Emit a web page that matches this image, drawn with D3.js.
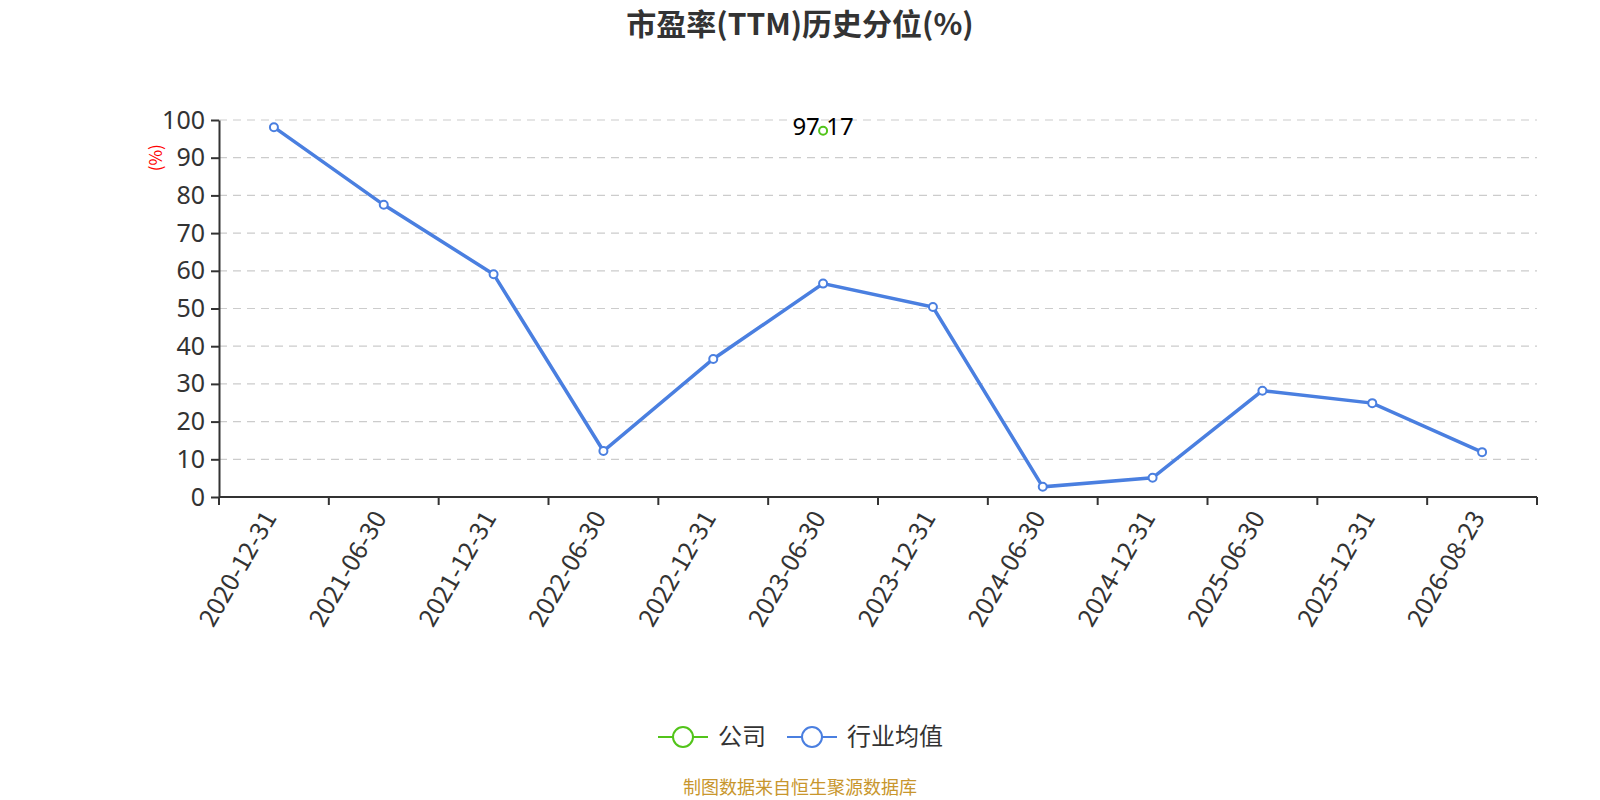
<!DOCTYPE html>
<html>
<head>
<meta charset="utf-8">
<script src="https://cdn.jsdelivr.net/npm/d3@7/dist/d3.min.js"></script>
<style>
  body { margin: 0; background: #fff; }
  svg { font-family: "Microsoft YaHei", "Noto Sans CJK SC", "Noto Sans", sans-serif; }
</style>
</head>
<body>
<svg id="chart"></svg>
<script>
// 数据
const dates = ["2020-12-31","2021-06-30","2021-12-31","2022-06-30","2022-12-31","2023-06-30",
               "2023-12-31","2024-06-30","2024-12-31","2025-06-30","2025-12-31","2026-08-23"];
const industry = [98.1, 77.5, 59.1, 12.2, 36.6, 56.6, 50.4, 2.7, 5.1, 28.2, 24.9, 11.9];
const company = [null, null, null, null, null, 97.17, null, null, null, null, null, null];
const yTicks = [0, 10, 20, 30, 40, 50, 60, 70, 80, 90, 100];
const seriesNames = ["公司", "行业均值"];
const seriesColors = ["#52c41a", "#4a7fe0"];

const svgW = 1600, svgH = 800;
const margin = { top: 120, right: 63, bottom: 303, left: 219 };
const width = svgW - margin.left - margin.right;
const height = svgH - margin.top - margin.bottom;

const root = d3.select("#chart").attr("width", svgW).attr("height", svgH);
const svg = root.append("g").attr("transform", `translate(${margin.left},${margin.top})`);

const x = d3.scaleBand().domain(dates).range([0, width]);
const y = d3.scaleLinear().domain([0, 100]).range([height, 0]);
const cx = d => x(d) + x.bandwidth() / 2;

// 网格线
svg.append("g")
  .selectAll("line")
  .data(yTicks.filter(t => t > 0))
  .join("line")
  .attr("x1", 0).attr("x2", width)
  .attr("y1", d => y(d)).attr("y2", d => y(d))
  .attr("stroke", "#ccc")
  .attr("stroke-width", 1.2)
  .attr("stroke-dasharray", "8,6");

// 坐标轴
svg.append("line")
  .attr("x1", 0).attr("x2", width)
  .attr("y1", height).attr("y2", height)
  .attr("stroke", "#333").attr("stroke-width", 2);
// 边界刻度
svg.append("g")
  .attr("transform", `translate(0,${height})`)
  .selectAll("line")
  .data(d3.range(dates.length + 1))
  .join("line")
  .attr("x1", i => i * x.step()).attr("x2", i => i * x.step())
  .attr("y1", 0).attr("y2", 8)
  .attr("stroke", "#333").attr("stroke-width", 2);

svg.append("g")
  .selectAll("text")
  .data(dates)
  .join("text")
  .attr("transform", d => `translate(${cx(d) - 4},${height + 16}) rotate(-60)`)
  .attr("text-anchor", "end")
  .attr("dy", "0.35em")
  .style("font-size", "25px")
  .style("fill", "#333")
  .text(d => d);

const gy = svg.append("g")
  .call(d3.axisLeft(y).tickValues(yTicks).tickSize(8).tickSizeOuter(0).tickPadding(6));
gy.select(".domain").attr("stroke", "#333").attr("stroke-width", 2);
gy.selectAll(".tick line").attr("stroke", "#333").attr("stroke-width", 2);
gy.selectAll(".tick text").style("font-size", "25px").style("fill", "#333")
  .style("font-family", "\"Noto Sans\", sans-serif");

// 单位
svg.append("text")
  .attr("transform", `translate(${-63},${y(90)}) rotate(-90)`)
  .attr("text-anchor", "middle")
  .attr("dy", "0.35em")
  .style("font-size", "17px")
  .style("fill", "red")
  .text("(%)");

// 行业均值折线
const line = d3.line().defined(d => d[1] != null).x(d => cx(d[0])).y(d => y(d[1]));
svg.append("path")
  .datum(dates.map((d, i) => [d, industry[i]]))
  .attr("fill", "none")
  .attr("stroke", seriesColors[1])
  .attr("stroke-width", 3.5)
  .attr("d", line);

svg.append("g")
  .selectAll("circle")
  .data(dates.map((d, i) => [d, industry[i]]))
  .join("circle")
  .attr("cx", d => cx(d[0]))
  .attr("cy", d => y(d[1]))
  .attr("r", 4)
  .attr("fill", "#fff")
  .attr("stroke", seriesColors[1])
  .attr("stroke-width", 2);

// 公司
const compPts = dates.map((d, i) => [d, company[i]]).filter(d => d[1] != null);
svg.append("g")
  .selectAll("text")
  .data(compPts)
  .join("text")
  .attr("x", d => cx(d[0]))
  .attr("y", d => y(d[1]))
  .attr("dy", "0.18em")
  .attr("text-anchor", "middle")
  .style("font-size", "24px")
  .style("fill", "#000")
  .style("font-family", "\"Noto Sans\", sans-serif")
  .text(d => d[1].toFixed(2));
svg.append("g")
  .selectAll("circle")
  .data(compPts)
  .join("circle")
  .attr("cx", d => cx(d[0]))
  .attr("cy", d => y(d[1]))
  .attr("r", 4)
  .attr("fill", "#fff")
  .attr("stroke", seriesColors[0])
  .attr("stroke-width", 2);

// 标题
root.append("text")
  .attr("x", 800).attr("y", 35)
  .attr("text-anchor", "middle")
  .style("font-size", "30px")
  .style("font-weight", "bold")
  .style("fill", "#333")
  .text("市盈率(TTM)历史分位(%)");

// 图例
const legend = root.append("g").attr("transform", "translate(658,737)");
const legendX = [0, 129];
seriesNames.forEach((name, i) => {
  const g = legend.append("g").attr("transform", `translate(${legendX[i]},0)`);
  g.append("line").attr("x1", 0).attr("x2", 50).attr("y1", 0).attr("y2", 0)
    .attr("stroke", seriesColors[i]).attr("stroke-width", 2);
  g.append("circle").attr("cx", 25).attr("cy", 0).attr("r", 10)
    .attr("fill", "#fff").attr("stroke", seriesColors[i]).attr("stroke-width", 2);
  g.append("text").attr("x", 60).attr("y", 0).attr("dy", "0.35em")
    .style("font-size", "24px").style("fill", "#333").text(name);
});

// 来源
root.append("text")
  .attr("x", 800).attr("y", 794)
  .attr("text-anchor", "middle")
  .style("font-size", "18px")
  .style("fill", "#c8962d")
  .text("制图数据来自恒生聚源数据库");
</script>
</body>
</html>
